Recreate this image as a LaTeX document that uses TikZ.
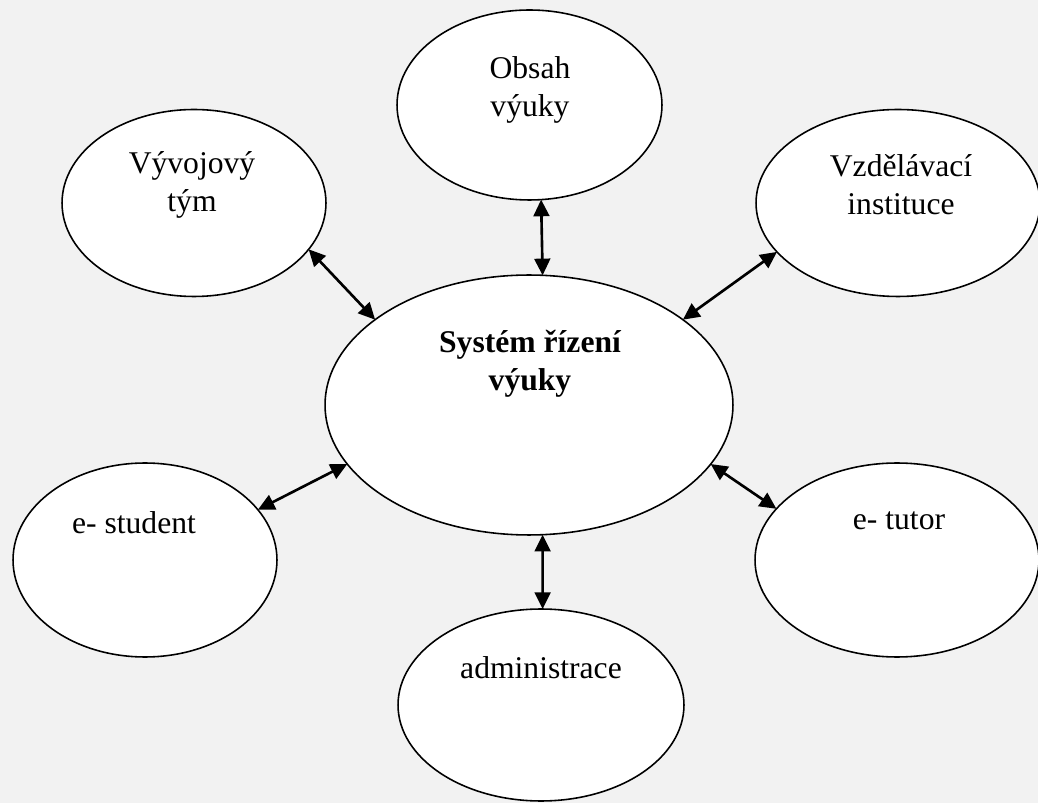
\documentclass[tikz,border=0pt]{standalone}
\usepackage{fontspec}
\setmainfont{Liberation Serif}
\usetikzlibrary{shapes.geometric,arrows.meta}
\definecolor{pagegray}{HTML}{F2F2F2}
\begin{document}
\begin{tikzpicture}[x=0.02cm,y=-0.02cm,
        bubble/.style={ellipse,draw=black,line width=0.9pt,fill=white,inner sep=0pt,outer sep=0pt},
        word/.style={align=center,font=\fontsize{18}{21.5}\selectfont,inner sep=0pt},
        link/.style={{Triangle[length=9.5pt,width=9pt]}-{Triangle[length=9.5pt,width=9pt]},line width=1.5pt}]
        % page and background
        \useasboundingbox (0,0) rectangle (1038,803);
        \fill[pagegray] (0,0) rectangle (1038,803);
        % ellipses
        \node[bubble,minimum width=8.16cm,minimum height=5.2cm] (sys) at (529,405) {};
        \node[bubble,minimum width=5.28cm,minimum height=3.74cm] (vyvoj) at (194,203) {};
        \node[bubble,minimum width=5.3cm,minimum height=3.8cm] (obsah) at (529.5,105) {};
        \node[bubble,minimum width=5.68cm,minimum height=3.74cm] (vzdel) at (898,203) {};
        \node[bubble,minimum width=5.28cm,minimum height=3.88cm] (student) at (145,560) {};
        \node[bubble,minimum width=5.68cm,minimum height=3.88cm] (tutor) at (897,560) {};
        \node[bubble,minimum width=5.72cm,minimum height=3.84cm] (admin) at (541,705) {};
        % texts
        \node[word,font=\fontsize{18}{21.5}\selectfont\bfseries] (sys-t) at (530,364) {Systém řízení\\výuky};
        \node[word] (vyvoj-t) at (192,185) {Vývojový\\tým};
        \node[word] (obsah-t) at (530,90) {Obsah\\výuky};
        \node[word] (vzdel-t) at (901,185) {Vzdělávací\\instituce};
        \node[word] (student-t) at (134,523) {e- student};
        \node[word] (tutor-t) at (899,521) {e- tutor};
        \node[word] (admin-t) at (541,668) {administrace};
        % arrows
        \draw[link] (vyvoj.-22) -- (sys.151);
        \draw[link] (obsah.-83) -- (sys.84);
        \draw[link] (vzdel.202) -- (sys.29);
        \draw[link] (student.24) -- (sys.198);
        \draw[link] (tutor.157) -- (sys.-18);
        \draw[link] (sys.-84.5) -- (admin.89.5);
\end{tikzpicture}
\end{document}
